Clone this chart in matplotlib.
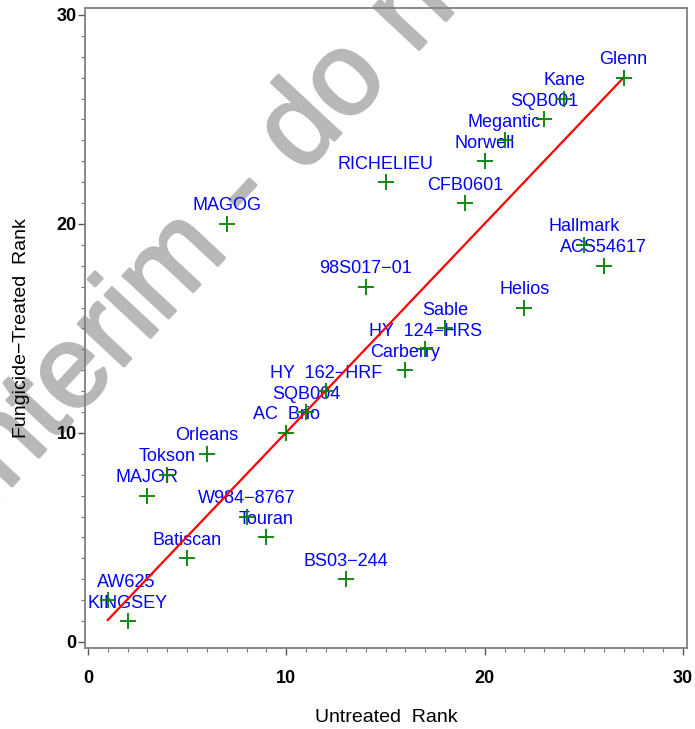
import matplotlib
matplotlib.use("Agg")
import matplotlib.pyplot as plt
import matplotlib.patheffects as pe
from matplotlib.ticker import MultipleLocator

plt.rcParams["font.family"] = ["Liberation Sans", "DejaVu Sans"]

# cultivar ranks
names = ["Glenn", "Kane", "SQB001", "Megantic", "Norwell", "RICHELIEU", "CFB0601",
         "MAGOG", "Hallmark", "ACS54617", "98S017\u221201", "Helios", "Sable",
         "HY  124\u2212HRS", "Carberry", "HY  162\u2212HRF", "SQB004", "AC  Brio",
         "Orleans", "Tokson", "MAJOR", "W984\u22128767", "Touran", "Batiscan",
         "BS03\u2212244", "AW625", "KINGSEY"]
untreated = [27, 24, 23, 21, 20, 15, 19, 7, 25, 26, 14, 22, 18, 17, 16, 12, 11, 10,
             6, 4, 3, 8, 9, 5, 13, 1, 2]
treated = [27, 26, 25, 24, 23, 22, 21, 20, 19, 18, 17, 16, 15, 14, 13, 12, 11, 10,
           9, 8, 7, 6, 5, 4, 3, 2, 1]

# fitted line end points
line_x = [1, 27]
line_y = [1.05, 27]

# labels nudged sideways (pixels) to stay inside the frame
label_shift = {"AW625": 18}

fig = plt.figure(figsize=(6.95, 7.29), dpi=100)
fig.patch.set_facecolor("white")
ax = fig.add_axes([0.1223, 0.1111, 0.8662, 0.8779])
ax.patch.set_alpha(0)

# watermark
fig.text(-0.023, 0.292, "Interim - do not cite", rotation=47, rotation_mode="anchor",
         ha="left", va="baseline", fontsize=85, color="#b8b8b8", zorder=-1,
         path_effects=[pe.withStroke(linewidth=2, foreground="#b8b8b8")])

ax.plot(line_x, line_y, color="red", lw=1.6, zorder=3)
ax.plot(untreated, treated, ls="none", marker="+", ms=11, mew=1.3, color="#008000", zorder=4)

for name, x, y in zip(names, untreated, treated):
    ax.annotate(name, (x, y), xytext=(label_shift.get(name, 0), 13.5),
                textcoords="offset pixels", ha="center", va="baseline",
                fontsize=13, color="#0000ff", zorder=2)

ax.set_xlim(-0.15, 30.2)
ax.set_ylim(-0.29, 30.33)
ax.xaxis.set_major_locator(MultipleLocator(10))
ax.xaxis.set_minor_locator(MultipleLocator(1))
ax.yaxis.set_major_locator(MultipleLocator(10))
ax.yaxis.set_minor_locator(MultipleLocator(1))
ax.tick_params(which="major", direction="out", length=5, width=1, color="#555555",
               labelsize=13)
ax.tick_params(axis="x", which="major", pad=11)
ax.tick_params(axis="y", which="major", pad=1)
ax.tick_params(which="minor", direction="out", length=3, width=0.8, color="#777777")
for lab in ax.get_xticklabels() + ax.get_yticklabels():
    lab.set_fontweight("bold")
for s in ax.spines.values():
    s.set_color("#808080")
    s.set_linewidth(1.3)

ax.set_xlabel("Untreated  Rank", fontsize=14, va="center")
ax.set_ylabel("Fungicide\u2212Treated  Rank", fontsize=14, va="center")
ax.xaxis.set_label_coords(0.5, -0.108)
ax.yaxis.set_label_coords(-0.105, 0.5)

fig.savefig("out.png", dpi=100)
